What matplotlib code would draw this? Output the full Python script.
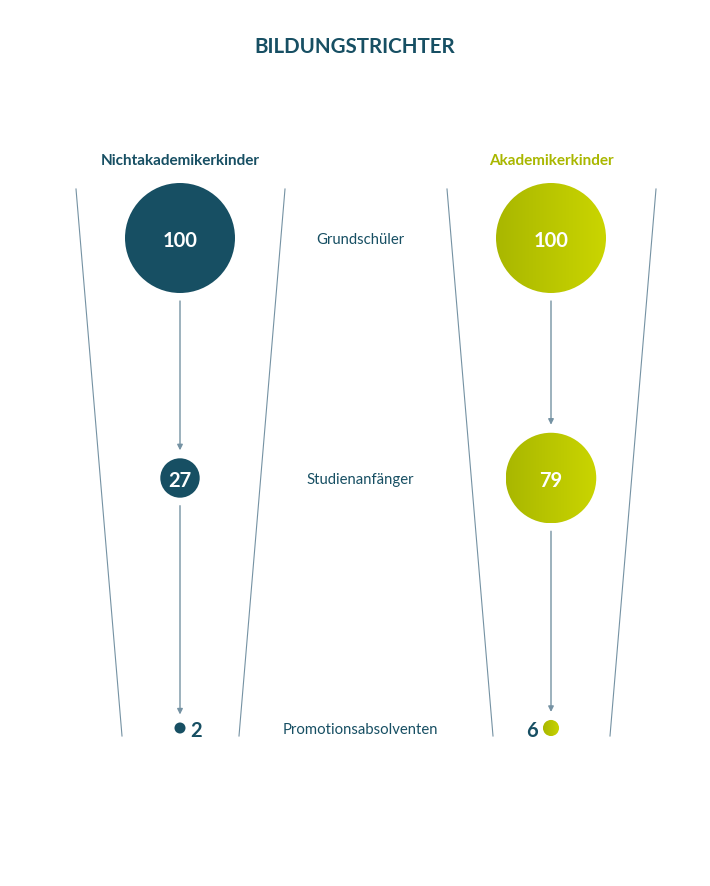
import numpy as np
import matplotlib
matplotlib.use("Agg")
import matplotlib.pyplot as plt
from matplotlib.patches import Circle
from matplotlib.colors import LinearSegmentedColormap

# Daten
stufen = ["Grundschüler", "Studienanfänger", "Promotionsabsolventen"]
nicht_akademiker = [100, 27, 2]
akademiker = [100, 79, 6]
gruppen = ["Nichtakademikerkinder", "Akademikerkinder"]

DUNKEL = "#174f63"
GRUEN_L = "#a9b700"
GRUEN_R = "#cad500"
LINIE = "#7592a3"

plt.rcParams["font.family"] = ["Lato", "DejaVu Sans"]

fig = plt.figure(figsize=(7.1, 8.87), dpi=100)
ax = fig.add_axes([0, 0, 1, 1])
ax.set_xlim(0, 710)
ax.set_ylim(887, 0)
ax.set_aspect("equal")
ax.axis("off")

stufe_y = [239, 479, 729]
spalte_x = [180, 551]

def radius(v):
    return 4 + 51 * (v / 100) ** 0.9

# Trichterlinien
for cx in spalte_x:
    ax.plot([cx - 104, cx - 58], [190, 737], color=LINIE, lw=0.8)
    ax.plot([cx + 105, cx + 59], [190, 737], color=LINIE, lw=0.8)

ax.text(355, 47, "BILDUNGSTRICHTER", ha="center", va="center",
        fontsize=14.8, fontweight="bold", color=DUNKEL)
ax.text(spalte_x[0], 161, gruppen[0], ha="center", va="center",
        fontsize=11, fontweight="bold", color=DUNKEL)
ax.text(spalte_x[1], 161, gruppen[1], ha="center", va="center",
        fontsize=11, fontweight="bold", color=GRUEN_L)

for label, y in zip(stufen, stufe_y):
    ax.text(360, y + 1, label, ha="center", va="center", fontsize=10.7, color=DUNKEL)

# Verlauf für grüne Kreise
grad = np.linspace(0, 1, 256).reshape(1, -1)
cmap_g = LinearSegmentedColormap.from_list("g", [GRUEN_L, GRUEN_R])

for i, (werte, cx) in enumerate(zip([nicht_akademiker, akademiker], spalte_x)):
    for j, (v, y) in enumerate(zip(werte, stufe_y)):
        r = radius(v)
        if i == 0:
            c = Circle((cx, y), r, facecolor=DUNKEL, edgecolor="none", zorder=3)
            ax.add_patch(c)
        else:
            c = Circle((cx, y), r, facecolor="none", edgecolor="none", zorder=3)
            ax.add_patch(c)
            im = ax.imshow(grad, cmap=cmap_g, extent=[cx - r, cx + r, y + r, y - r],
                           aspect="auto", zorder=3, interpolation="bilinear")
            im.set_clip_path(c)
        if r > 15:
            ax.text(cx, y + 2, str(v), ha="center", va="center", fontsize=14.5,
                    fontweight="bold", color="white", zorder=4)
        else:
            dx = r + 11
            tx = cx + dx if i == 0 else cx - dx
            ax.text(tx, y + 2, str(v), ha="center", va="center", fontsize=14.5,
                    fontweight="bold", color=DUNKEL, zorder=4)
        # Pfeil zur nächsten Stufe
        if j < len(werte) - 1:
            r2 = radius(werte[j + 1])
            y0 = y + r + 8
            y1 = stufe_y[j + 1] - r2 - 8
            ax.annotate("", xy=(cx, y1), xytext=(cx, y0),
                        arrowprops=dict(arrowstyle="-|>", color=LINIE, lw=1.0,
                                        mutation_scale=8, shrinkA=0, shrinkB=0))

ax.set_xlim(0, 710)
ax.set_ylim(887, 0)
fig.savefig("out.png", dpi=100, facecolor="white")
